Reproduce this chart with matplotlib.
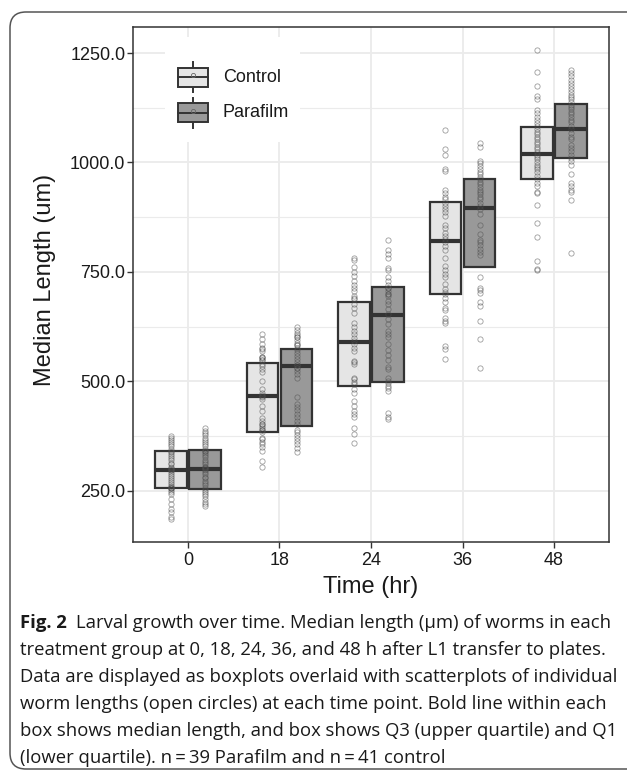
import matplotlib
matplotlib.use('Agg')
import matplotlib.pyplot as plt
import numpy as np
from matplotlib.patches import FancyBboxPatch, Rectangle
from matplotlib.ticker import FormatStrFormatter, FixedLocator

plt.rcParams['font.family'] = ['Liberation Sans', 'DejaVu Sans']

# ── Data ──────────────────────────────────────────────────────────────────────
times = ['0', '18', '24', '36', '48']
groups = ['Control', 'Parafilm']

ctrl_q1 = [256, 383, 490, 700, 963]
ctrl_med = [297, 466, 589, 821, 1019]
ctrl_q3 = [340, 542, 680, 910, 1081]
para_q1 = [253, 398, 498, 762, 1010]
para_med = [300, 534, 651, 896, 1077]
para_q3 = [342, 574, 716, 963, 1133]

ctrl_0 = [375, 371, 366, 361, 356, 351, 345, 339, 334, 329, 324, 320, 314, 310, 305, 301, 297, 293,
          288, 284, 279, 275, 270, 266, 261, 257, 255, 252, 247, 242, 231, 219, 209, 200, 190, 186,
          297, 300, 340, 255, 258]
para_0 = [392, 387, 381, 377, 371, 366, 361, 356, 351, 346, 341, 336, 331, 326, 320, 316, 310, 305,
          301, 298, 293, 288, 282, 278, 272, 267, 263, 257, 252, 247, 242, 237, 231, 224, 219, 214,
          300, 305, 340]
ctrl_18 = [609, 596, 584, 577, 573, 568, 556, 553, 548, 540, 535, 527, 520, 501, 482, 474, 469, 464,
           459, 444, 431, 416, 409, 403, 398, 394, 388, 383, 371, 368, 360, 356, 350, 341, 318, 304,
           556, 548, 466, 403, 388]
para_18 = [623, 616, 611, 606, 600, 594, 588, 583, 577, 571, 565, 558, 550, 543, 537, 531, 524, 516,
           508, 464, 447, 440, 434, 426, 419, 409, 402, 388, 383, 377, 371, 364, 356, 347, 339,
           537, 531, 583, 600]
ctrl_24 = [782, 778, 761, 750, 740, 729, 721, 714, 706, 695, 691, 687, 676, 667, 657, 632, 623, 615,
           607, 598, 592, 586, 577, 569, 546, 543, 539, 508, 505, 499, 493, 482, 472, 454, 444, 432,
           426, 419, 394, 379, 358]
para_24 = [822, 799, 790, 781, 759, 753, 737, 729, 721, 714, 706, 700, 695, 683, 676, 664, 653, 642,
           630, 615, 609, 600, 584, 571, 560, 548, 533, 527, 507, 501, 495, 489, 484, 478, 428, 418,
           413, 714, 700]
ctrl_36 = [1075, 1031, 1018, 986, 980, 938, 931, 922, 916, 908, 900, 894, 887, 878, 856, 851, 839,
           832, 826, 818, 809, 800, 782, 763, 754, 744, 739, 722, 710, 704, 699, 691, 681, 668, 663,
           645, 638, 632, 581, 573, 550]
para_36 = [1045, 1036, 1003, 998, 992, 984, 978, 973, 967, 961, 955, 950, 944, 938, 932, 927, 922,
           916, 908, 900, 893, 881, 856, 836, 823, 817, 811, 803, 795, 788, 737, 714, 709, 702, 681,
           672, 638, 596, 531]
ctrl_48 = [1256, 1206, 1174, 1151, 1144, 1119, 1113, 1104, 1098, 1091, 1083, 1077, 1069, 1064, 1059,
           1053, 1046, 1041, 1036, 1030, 1024, 1018, 1013, 1007, 1001, 995, 990, 984, 978, 970, 961,
           952, 946, 932, 929, 902, 861, 830, 775, 757, 754]
para_48 = [1211, 1205, 1197, 1189, 1182, 1174, 1167, 1161, 1155, 1150, 1144, 1138, 1132, 1127, 1121,
           1115, 1110, 1104, 1098, 1092, 1084, 1077, 1068, 1059, 1053, 1039, 1033, 1026, 1018, 1011,
           1003, 993, 973, 952, 946, 937, 932, 914, 792]

ctrl_pts = [ctrl_0, ctrl_18, ctrl_24, ctrl_36, ctrl_48]
para_pts = [para_0, para_18, para_24, para_36, para_48]

caption = [
    "treatment group at 0, 18, 24, 36, and 48 h after L1 transfer to plates.",
    "Data are displayed as boxplots overlaid with scatterplots of individual",
    "worm lengths (open circles) at each time point. Bold line within each",
    "box shows median length, and box shows Q3 (upper quartile) and Q1",
    "(lower quartile). n\u2009=\u200939 Parafilm and n\u2009=\u200941 control",
]

# ── Styles ────────────────────────────────────────────────────────────────────
C_CTRL = '#E5E5E5'
C_PARA = '#999999'
C_EDGE = '#333333'
C_GRID = '#EBEBEB'
W = 0.345
OFF = 0.187

fig = plt.figure(figsize=(6.27, 7.74), dpi=100)

# background frame + caption, in pixel coords
bg = fig.add_axes([0, 0, 1, 1])
bg.set_xlim(0, 627)
bg.set_ylim(774, 0)
bg.axis('off')
bg.add_patch(FancyBboxPatch((10, 12), 640, 757, boxstyle='round,pad=0,rounding_size=16',
                            fc='white', ec='#555555', lw=1.1))

# ── Plot panel ────────────────────────────────────────────────────────────────
L, R, T, B = 133, 609, 27, 542
ax = fig.add_axes([L / 627, (774 - B) / 774, (R - L) / 627, (B - T) / 774])
ax.set_facecolor('white')

x = np.arange(1, len(times) + 1)
for xs, q1, med, q3, pts, col in [(x - OFF, ctrl_q1, ctrl_med, ctrl_q3, ctrl_pts, C_CTRL),
                                   (x + OFF, para_q1, para_med, para_q3, para_pts, C_PARA)]:
    ax.bar(xs, np.array(q3) - np.array(q1), bottom=q1, width=W, color=col,
           edgecolor=C_EDGE, lw=1.6, zorder=2)
    ax.hlines(med, xs - W / 2, xs + W / 2, color=C_EDGE, lw=3.0, zorder=3)
    for xi, p in zip(xs, pts):
        ax.plot(np.full(len(p), xi), p, 'o', ms=3.8, mfc='none', mec='#4d4d4d',
                mew=0.6, alpha=0.55, zorder=4)

ax.set_xlim(0.4, len(times) + 0.6)
ax.set_ylim(132.5, 1309.5)
ax.set_xticks(x)
ax.set_xticklabels(times)
ax.yaxis.set_major_locator(FixedLocator([250, 500, 750, 1000, 1250]))
ax.yaxis.set_minor_locator(FixedLocator([375, 625, 875, 1125]))
ax.yaxis.set_major_formatter(FormatStrFormatter('%.1f'))
ax.grid(True, which='major', color=C_GRID, lw=1.3, zorder=0)
ax.grid(True, which='minor', axis='y', color=C_GRID, lw=0.8, zorder=0)
ax.set_axisbelow(True)
ax.tick_params(axis='both', which='major', labelsize=13, length=4, width=1,
               color='#333333', labelcolor='#1a1a1a')
ax.tick_params(axis='y', which='major', pad=1.5)
ax.tick_params(axis='x', which='major', pad=3)
ax.tick_params(axis='y', which='minor', length=0)
for s in ax.spines.values():
    s.set_color('#333333')
    s.set_linewidth(1.1)

ax.set_xlabel('Time (hr)', fontsize=17, va='center', color='#1a1a1a')
ax.xaxis.set_label_coords(0.5, (B - 587) / (B - T))
ax.set_ylabel('Median Length (um)', fontsize=17, va='center', color='#1a1a1a')
ax.yaxis.set_label_coords((45 - L) / (R - L), (B - 280) / (B - T))

# ── Legend (drawn inside panel, pixel positions) ─────────────────────────────
def pa(px, py):
    return (px - L) / (R - L), (B - py) / (B - T)

ax.add_patch(Rectangle(pa(165, 142), 135 / (R - L), 105 / (B - T), transform=ax.transAxes,
                       fc='white', ec='none', zorder=5))
for name, col, cy in [('Control', C_CTRL, 77), ('Parafilm', C_PARA, 112.5)]:
    x0, y0 = pa(178, cy + 9.5)
    ax.add_patch(Rectangle((x0, y0), 30 / (R - L), 19 / (B - T), transform=ax.transAxes,
                           fc=col, ec=C_EDGE, lw=1.4, zorder=6))
    xa, ya = pa(193, cy - 15)
    xb, yb = pa(193, cy + 15)
    ax.plot([xa, xb], [ya, yb], color=C_EDGE, lw=1.4, transform=ax.transAxes, zorder=5.5)
    xl, yl = pa(178, cy)
    xr, _ = pa(208, cy)
    ax.plot([xl, xr], [yl, yl], color=C_EDGE, lw=1.4, transform=ax.transAxes, zorder=7)
    xc, yc = pa(193, cy - 2)
    ax.plot([xc], [yc], 'o', ms=3.0, mfc='none', mec='#666666', mew=0.6,
            transform=ax.transAxes, zorder=7)
    xt, yt = pa(223, cy)
    ax.text(xt, yt, name, transform=ax.transAxes, fontsize=13, va='center', ha='left',
            color='#1a1a1a', zorder=7)

# ── Caption ───────────────────────────────────────────────────────────────────
cap_font = ['Open Sans', 'DejaVu Sans']
cap_size = 13.3
t0 = bg.text(20, 623, 'Fig. 2', fontsize=cap_size, fontweight='bold', family=cap_font,
             va='center', ha='left', color='#1a1a1a')
fig.canvas.draw()
bb = t0.get_window_extent()
bg.text(bb.x1 + 9, 623, 'Larval growth over time. Median length (\u00b5m) of worms in each',
        fontsize=cap_size, family=cap_font, va='center', ha='left', color='#1a1a1a')
for i, line in enumerate(caption):
    bg.text(20, 650 + 27 * i, line, fontsize=cap_size, family=cap_font, va='center',
            ha='left', color='#1a1a1a')

plt.savefig('out.png', dpi=100)
